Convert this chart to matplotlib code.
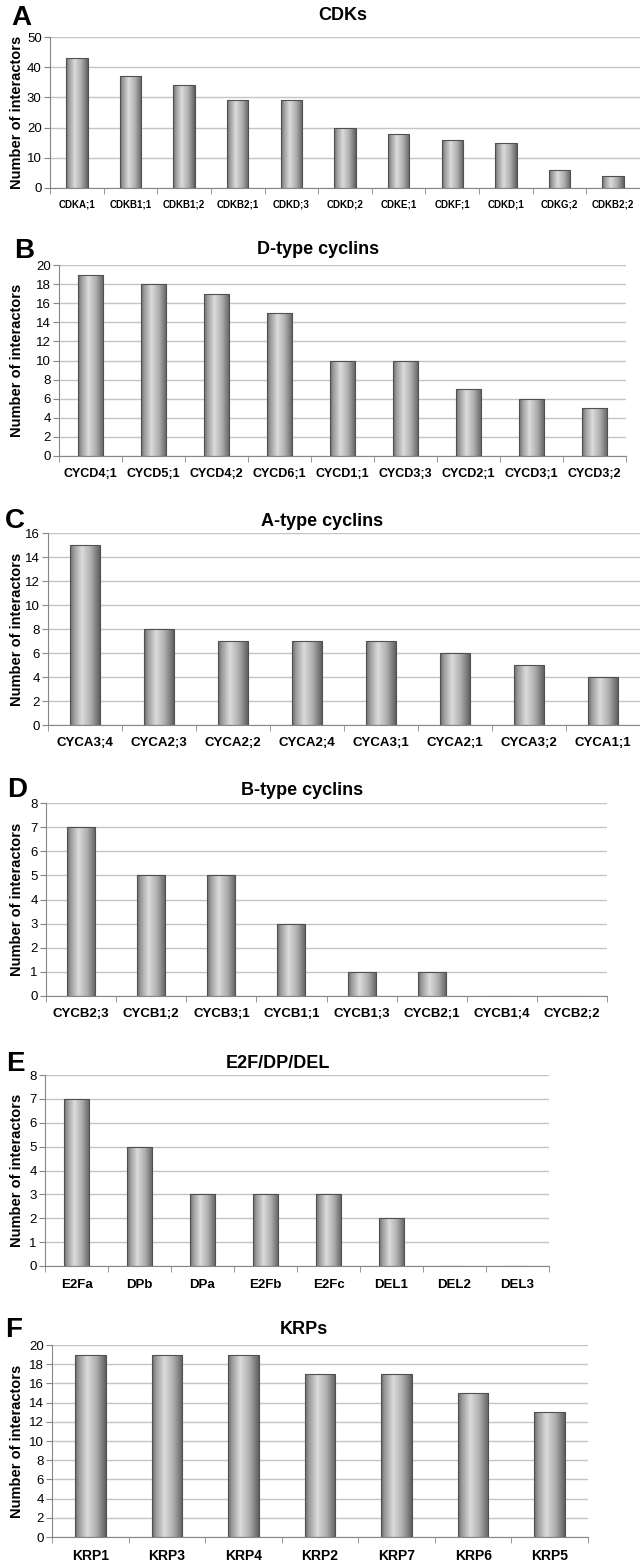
import numpy as np
import matplotlib
matplotlib.use("Agg")
from matplotlib import pyplot as plt

plt.rcParams['font.family'] = ['Liberation Sans', 'DejaVu Sans']

W, H = 640, 1565

# data
cdk_names = ["CDKA;1", "CDKB1;1", "CDKB1;2", "CDKB2;1", "CDKD;3", "CDKD;2",
             "CDKE;1", "CDKF;1", "CDKD;1", "CDKG;2", "CDKB2;2"]
cdk_counts = [43, 37, 34, 29, 29, 20, 18, 16, 15, 6, 4]

dcyc_names = ["CYCD4;1", "CYCD5;1", "CYCD4;2", "CYCD6;1", "CYCD1;1",
              "CYCD3;3", "CYCD2;1", "CYCD3;1", "CYCD3;2"]
dcyc_counts = [19, 18, 17, 15, 10, 10, 7, 6, 5]

acyc_names = ["CYCA3;4", "CYCA2;3", "CYCA2;2", "CYCA2;4", "CYCA3;1",
              "CYCA2;1", "CYCA3;2", "CYCA1;1"]
acyc_counts = [15, 8, 7, 7, 7, 6, 5, 4]

bcyc_names = ["CYCB2;3", "CYCB1;2", "CYCB3;1", "CYCB1;1", "CYCB1;3",
              "CYCB2;1", "CYCB1;4", "CYCB2;2"]
bcyc_counts = [7, 5, 5, 3, 1, 1, 0, 0]

e2f_names = ["E2Fa", "DPb", "DPa", "E2Fb", "E2Fc", "DEL1", "DEL2", "DEL3"]
e2f_counts = [7, 5, 3, 3, 3, 2, 0, 0]

krp_names = ["KRP1", "KRP3", "KRP4", "KRP2", "KRP7", "KRP6", "KRP5"]
krp_counts = [19, 19, 19, 17, 17, 15, 13]

# letter, title, names, counts, ymax, ystep
panels = [
    ("A", "CDKs", cdk_names, cdk_counts, 50, 10),
    ("B", "D-type cyclins", dcyc_names, dcyc_counts, 20, 2),
    ("C", "A-type cyclins", acyc_names, acyc_counts, 16, 2),
    ("D", "B-type cyclins", bcyc_names, bcyc_counts, 8, 1),
    ("E", "E2F/DP/DEL", e2f_names, e2f_counts, 8, 1),
    ("F", "KRPs", krp_names, krp_counts, 20, 2),
]

# layout in pixels: axes (left, top, right, bottom), title x/y, letter x/y, xlabel size, pad
layout = [
    ((50, 37, 640, 188), (343, 16), (21, 18), 7, 8),
    ((59, 265, 626, 456), (318, 250), (24, 251), 9, 8.5),
    ((48, 533, 640, 725), (322, 522), (15, 521), 9.5, 9),
    ((46, 803, 607, 996), (302, 791), (17, 790), 9.5, 8.5),
    ((45, 1075, 549, 1266), (278, 1064), (15, 1064), 9.5, 9),
    ((52, 1345, 588, 1537), (304, 1330), (14, 1330), 10, 9),
]

profile = np.interp(np.linspace(0, 1, 80), [0, 0.12, 0.4, 0.7, 1],
                    [0.42, 0.6, 0.86, 0.68, 0.38])
grad = profile[np.newaxis, :]

axis_col = "#868686"


def shaded_bars(ax, counts):
    bars = ax.bar(range(len(counts)), counts, width=0.4, color="none",
                  edgecolor="#505050", linewidth=0.8, zorder=3)
    for b in bars:
        if b.get_height() <= 0:
            continue
        x0 = b.get_x()
        im = ax.imshow(grad, extent=(x0, x0 + b.get_width(), 0, b.get_height()),
                       aspect="auto", cmap="gray", vmin=0, vmax=1,
                       interpolation="bilinear", zorder=2)
        im.set_clip_path(b)


fig = plt.figure(figsize=(W / 100, H / 100), dpi=100)

for (letter, title, names, counts, ymax, ystep), (box, tpos, lpos, xfs, xpad) in zip(panels, layout):
    l, t, r, b = box
    ax = fig.add_axes([l / W, 1 - b / H, (r - l) / W, (b - t) / H])
    n = len(names)
    shaded_bars(ax, counts)
    ax.set_xlim(-0.5, n - 0.5)
    ax.set_ylim(0, ymax)
    ax.set_yticks(np.arange(0, ymax + ystep / 2, ystep))
    ax.set_xticks(range(n))
    ax.set_xticklabels(names, fontweight="bold", fontsize=xfs)
    ax.set_xticks(np.arange(-0.5, n), minor=True)
    ax.tick_params(axis="x", which="major", length=0, pad=xpad)
    ax.tick_params(axis="x", which="minor", length=4, color=axis_col)
    ax.tick_params(axis="y", length=4, color=axis_col, labelsize=9.5, pad=2)
    for s in ["top", "right"]:
        ax.spines[s].set_visible(False)
    for s in ["left", "bottom"]:
        ax.spines[s].set_color(axis_col)
    ax.yaxis.grid(True, color="#c4c4c4", linewidth=1)
    ax.set_axisbelow(True)
    ax.set_ylabel("Number of interactors", fontweight="bold", fontsize=10.5)
    ax.yaxis.set_label_coords((24 - l) / (r - l), 0.5)

    fig.text(tpos[0] / W, 1 - tpos[1] / H, title, ha="center", va="center",
             fontweight="bold", fontsize=13)
    fig.text(lpos[0] / W, 1 - lpos[1] / H, letter, ha="center", va="center",
             fontweight="bold", fontsize=20)

fig.savefig("out.png", dpi=100)
